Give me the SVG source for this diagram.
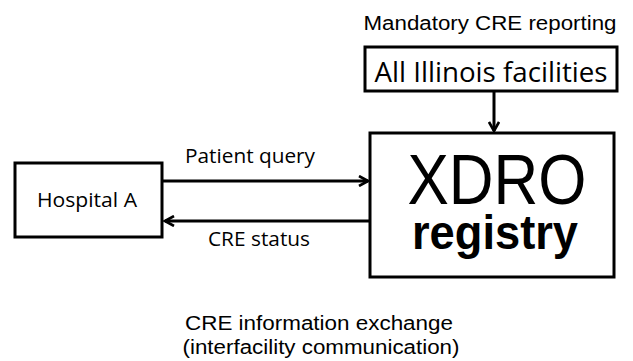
<svg xmlns="http://www.w3.org/2000/svg" width="633" height="361" viewBox="0 0 633 361">
<style>
.box{fill:#fff;stroke:#000;stroke-width:3}
.ln{fill:none;stroke:#000;stroke-width:3}
.cal{font-family:"Open Sans","Noto Sans",sans-serif;fill:#000}
.ar{font-family:"Liberation Sans",Arial,sans-serif;fill:#000}
</style>
<defs>
<marker id="ah" viewBox="0 0 12 12" refX="10" refY="6" markerWidth="12" markerHeight="12" markerUnits="userSpaceOnUse" orient="auto">
<path d="M1,1 L10,6 L1,11" fill="none" stroke="#000" stroke-width="2.6"/>
</marker>
</defs>
<rect width="633" height="361" fill="#fff"/>
<text class="ar" x="490" y="30" font-size="20" text-anchor="middle" textLength="253" lengthAdjust="spacingAndGlyphs">Mandatory CRE reporting</text>
<g id="connectors">
<line class="ln" x1="494" y1="92" x2="494" y2="131" marker-end="url(#ah)"/>
<line class="ln" x1="163" y1="181" x2="368" y2="181" marker-end="url(#ah)"/>
<line class="ln" x1="370" y1="221" x2="165" y2="221" marker-end="url(#ah)"/>
</g>
<g id="illinois">
<rect class="box" x="365" y="47" width="252" height="44"/>
<text class="cal" x="491" y="82" font-size="28" text-anchor="middle" textLength="233" lengthAdjust="spacingAndGlyphs">All Illinois facilities</text>
</g>
<g id="xdro">
<rect class="box" x="370" y="133" width="244" height="144"/>
<text class="ar" x="497" y="204" font-size="70" text-anchor="middle" textLength="179" lengthAdjust="spacingAndGlyphs">XDRO</text>
<text class="ar" x="495" y="249" font-size="48" font-weight="bold" text-anchor="middle" textLength="166" lengthAdjust="spacingAndGlyphs">registry</text>
</g>
<g id="hospital">
<rect class="box" x="15" y="163" width="147" height="74"/>
<text class="cal" x="87" y="207" font-size="20" text-anchor="middle" textLength="100" lengthAdjust="spacingAndGlyphs">Hospital A</text>
</g>
<text class="cal" x="250" y="163" font-size="20" text-anchor="middle" textLength="130" lengthAdjust="spacingAndGlyphs">Patient query</text>
<text class="cal" x="259" y="246" font-size="20" text-anchor="middle" textLength="102" lengthAdjust="spacingAndGlyphs">CRE status</text>
<text class="ar" x="319" y="330" font-size="20" text-anchor="middle" textLength="268" lengthAdjust="spacingAndGlyphs">CRE information exchange</text>
<text class="ar" x="321" y="354" font-size="20" text-anchor="middle" textLength="277" lengthAdjust="spacingAndGlyphs">(interfacility communication)</text>
</svg>
